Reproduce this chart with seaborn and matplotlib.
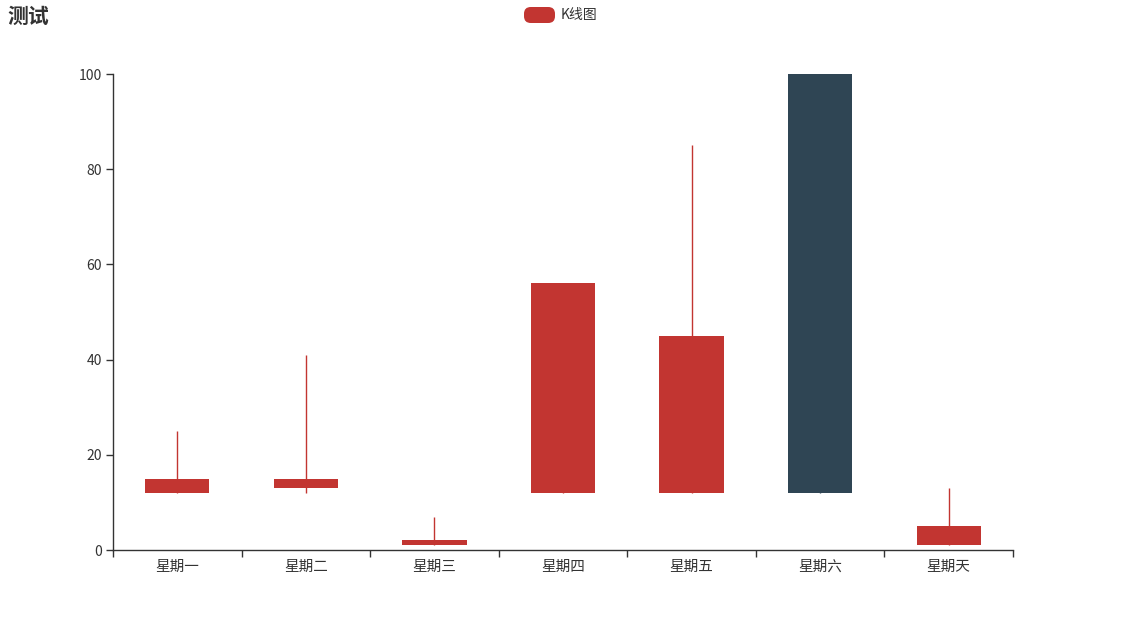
import numpy as np
import matplotlib
matplotlib.use("Agg")
import matplotlib.pyplot as plt
import seaborn as sns
from matplotlib.patches import FancyBboxPatch

# candlestick data: open, close, low, high per day
days = ["星期一", "星期二", "星期三", "星期四", "星期五", "星期六", "星期天"]
open_vals = [12, 13, 1, 12, 12, 100, 1]
close_vals = [15, 15, 2, 56, 45, 12, 5]
low_vals = [12, 12, 1, 12, 12, 12, 1]
high_vals = [25, 41, 7, 56, 85, 100, 13]

UP_COLOR = "#c23531"
DOWN_COLOR = "#2f4554"
TEXT_COLOR = "#333333"

sns.set_theme(style="ticks")
plt.rcParams["font.family"] = ["Noto Sans CJK SC", "DejaVu Sans"]

fig = plt.figure(figsize=(11.25, 6.25), dpi=100)
ax = fig.add_axes([113 / 1125, 1 - 550 / 625, 900 / 1125, 476 / 625])

x = np.arange(len(days))
opens = np.array(open_vals)
closes = np.array(close_vals)
colors = [UP_COLOR if c >= o else DOWN_COLOR for o, c in zip(opens, closes)]

# wicks
ax.vlines(x, low_vals, high_vals, colors=colors, linewidth=1, zorder=2)
# bodies
ax.bar(x, np.abs(closes - opens), bottom=np.minimum(opens, closes),
       width=0.5, color=colors, linewidth=0, zorder=3)

ax.set_xlim(-0.5, len(days) - 0.5)
ax.set_ylim(0, 100)
ax.set_yticks([0, 20, 40, 60, 80, 100])

# boundary ticks, labels in the middle of each category
ax.set_xticks(np.arange(-0.5, len(days)), labels=[""] * (len(days) + 1))
ax.set_xticks(x, labels=days, minor=True)
ax.tick_params(axis="x", which="major", length=5, width=1, color=TEXT_COLOR)
ax.tick_params(axis="x", which="minor", length=0, pad=7, labelsize=10.5,
               labelcolor=TEXT_COLOR)
ax.tick_params(axis="y", length=5, width=1, color=TEXT_COLOR, labelsize=10,
               labelcolor=TEXT_COLOR, pad=3)

sns.despine(ax=ax)
for side in ["left", "bottom"]:
    ax.spines[side].set_color(TEXT_COLOR)
    ax.spines[side].set_linewidth(1)
ax.grid(False)

# title
fig.text(7 / 1125, 1 - 16 / 625, "测试", fontsize=15, fontweight="bold",
         color=TEXT_COLOR, ha="left", va="center")

# legend
icon = FancyBboxPatch((524 / 1125, 1 - 23 / 625), 31 / 1125, 16 / 625,
                      boxstyle="round,pad=0,rounding_size=0.006",
                      transform=fig.transFigure, facecolor=UP_COLOR,
                      edgecolor="none", mutation_aspect=1125 / 625)
fig.patches.append(icon)
fig.text(561 / 1125, 1 - 15 / 625, "K线图", fontsize=10, color=TEXT_COLOR,
         ha="left", va="center")

fig.savefig("out.png", dpi=100)
